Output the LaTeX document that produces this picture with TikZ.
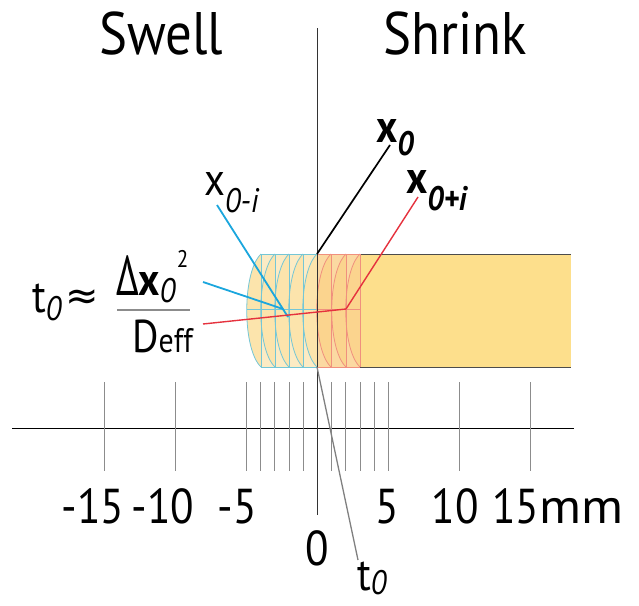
\documentclass[tikz,border=0pt]{standalone}
\usepackage{graphicx}
\usepackage{fontspec}
\setmainfont{PT Sans}[FakeStretch=0.88]
\newfontfamily\symfont{DejaVu Sans}
\definecolor{rodfill}{HTML}{FDDF8C}
\definecolor{palefill}{HTML}{FCEBC4}
\definecolor{warmfill}{HTML}{FBD9A2}
\definecolor{cyanline}{HTML}{1BA6DD}
\definecolor{cyanslice}{HTML}{74C6D6}
\definecolor{redline}{HTML}{E5323E}
\definecolor{redslice}{HTML}{F0907E}
\newcommand{\isub}[2]{\raisebox{-#1pt}{\fontsize{34}{34}\selectfont\itshape #2}}

\begin{document}
\begin{tikzpicture}[
  x=1pt, y=-1pt,
  title/.style={font=\fontsize{60}{60}\selectfont, anchor=base, inner sep=0pt},
  ticklbl/.style={font=\fontsize{49}{49}\selectfont, anchor=base, inner sep=0pt},
  varlbl/.style={font=\fontsize{46}{46}\selectfont, anchor=base west, inner sep=0pt},
  axis/.style={draw=black, line width=1pt},
  tick/.style={draw=black!45, line width=0.8pt},
  sliceL/.style={draw=cyanslice, line width=0.8pt},
  sliceR/.style={draw=redslice, line width=0.8pt},
  lens/.style={fill=orange!60!yellow, opacity=0.12},
  cyanlink/.style={draw=cyanline, line width=1.8pt},
  redlink/.style={draw=redline, line width=1.4pt},
  blacklink/.style={draw=black, line width=1.7pt},
  graylink/.style={draw=black!50, line width=1.3pt}]
  \useasboundingbox (0,0) rectangle (639,605);
  % Headings
  \node[title] (swell) at (161,54) {Swell};
  \node[title] (shrink) at (455,54) {Shrink};
  % Solid rod
  \fill[rodfill] (360,254) rectangle (571,367);
  \draw[draw=black!70, line width=1pt] (360,254) -- (571,254) (360,367) -- (571,367);
  % Slices, swelling side and shrinking side
  \fill[palefill] (261,254) -- (317,254) -- (317,367) -- (261,367) .. controls (242,349) and (242,272) .. cycle;
  \fill[warmfill] (317,254) -- (360,254) -- (360,367) -- (317,367) -- cycle;
  \fill[lens] (261,254) .. controls (242,272) and (242,349) .. (261,367) -- cycle;
  \fill[lens] (275,254) .. controls (256,272) and (256,349) .. (275,367) -- cycle;
  \fill[lens] (289,254) .. controls (270,272) and (270,349) .. (289,367) -- cycle;
  \fill[lens] (303,254) .. controls (284,272) and (284,349) .. (303,367) -- cycle;
  \fill[lens] (317,254) .. controls (298,272) and (298,349) .. (317,367) -- cycle;
  \fill[lens] (331,254) .. controls (312,272) and (312,349) .. (331,367) -- cycle;
  \fill[lens] (346,254) .. controls (327,272) and (327,349) .. (346,367) -- cycle;
  \fill[lens] (360,254) .. controls (341,272) and (341,349) .. (360,367) -- cycle;
  \draw[sliceL] (261,254) -- (317,254) (261,367) -- (317,367) (247,309) -- (317,309);
  \draw[sliceL] (261,254) -- (261,367) (275,254) -- (275,367) (289,254) -- (289,367) (303,254) -- (303,367);
  \draw[sliceL] (261,254) .. controls (242,272) and (242,349) .. (261,367);
  \draw[sliceL] (275,254) .. controls (256,272) and (256,349) .. (275,367);
  \draw[sliceL] (289,254) .. controls (270,272) and (270,349) .. (289,367);
  \draw[sliceL] (303,254) .. controls (284,272) and (284,349) .. (303,367);
  \draw[sliceL] (317,254) .. controls (298,272) and (298,349) .. (317,367);
  \draw[sliceR] (317,254) -- (360,254) (317,367) -- (360,367) (317,309) -- (360,309);
  \draw[sliceR] (331,254) -- (331,367) (346,254) -- (346,367) (360,254) -- (360,367);
  \draw[sliceR] (331,254) .. controls (312,272) and (312,349) .. (331,367);
  \draw[sliceR] (346,254) .. controls (327,272) and (327,349) .. (346,367);
  \draw[sliceR] (360,254) .. controls (341,272) and (341,349) .. (360,367);
  % Axes and ticks
  \draw[axis] (12,428) -- (574,428);
  \draw[tick] (104,382) -- (104,471) (175,382) -- (175,471);
  \draw[tick] (246,382) -- (246,471) (260,382) -- (260,471) (274,382) -- (274,471)
    (289,382) -- (289,471) (303,382) -- (303,471);
  \draw[tick] (331,382) -- (331,471) (345,382) -- (345,471) (360,382) -- (360,471)
    (374,382) -- (374,471) (388,382) -- (388,471);
  \draw[tick] (459,382) -- (459,471) (530,382) -- (530,471);
  \draw[draw=black!80, line width=0.9pt] (317,28) -- (317,515);
  \node[ticklbl] (lm15) at (93,523) {-15};
  \node[ticklbl] (lm10) at (163,523) {-10};
  \node[ticklbl] (lm5) at (237,523) {-5};
  \node[ticklbl] (l0) at (317,565) {0};
  \node[ticklbl] (l5) at (387,523) {5};
  \node[ticklbl] (l10) at (455,523) {10};
  \node[ticklbl, anchor=base west] (l15) at (492,523) {15\scalebox{1.2}[1]{mm}};
  % Labels
  \node[varlbl] (xm) at (204,195) {x\isub{17}{0-i}};
  \node[varlbl] (x0) at (376,142) {\bfseries x\isub{13}{0}};
  \node[varlbl] (xp) at (406,193) {\bfseries x\isub{17}{0+i}};
  \node[varlbl] (t0) at (357,590) {t\isub{4}{0}};
  \node[varlbl] (tz) at (32,312)
    {t\isub{8}{0}\hspace{4pt}\raisebox{3pt}{\symfont\fontsize{40}{40}\selectfont ≈}};
  \node[varlbl] (num) at (116,295)
    {\scalebox{0.8}[1]{\fontsize{56}{56}\selectfont Δ}{\bfseries x}\rlap{\isub{7}{0}}\kern17pt\raisebox{28pt}{\fontsize{24}{24}\selectfont 2}};
  \node[varlbl] (den) at (132,352) {D\fontsize{34}{34}\selectfont eff};
  \draw[draw=black!45, line width=1.5pt] (117,310) -- (190,310);
  % Connectors
  \coordinate (xmtip) at (217,205);
  \coordinate (xmpt) at (288,317);
  \coordinate (dxtip) at (203,282);
  \coordinate (dxpt) at (283,309);
  \coordinate (dftip) at (203,324);
  \coordinate (xppt) at (346,309);
  \coordinate (xptip) at (418,197);
  \coordinate (x0tip) at (390,145);
  \coordinate (x0pt) at (317,254);
  \coordinate (t0pt) at (317,367);
  \coordinate (t0tip) at (358,560);
  \draw[cyanlink] (xmtip) -- (xmpt);
  \draw[cyanlink] (dxtip) -- (dxpt);
  \draw[redlink] (dftip) -- (xppt);
  \draw[redlink] (xptip) -- (xppt);
  \draw[blacklink] (x0tip) -- (x0pt);
  \draw[graylink] (t0pt) -- (t0tip);
\end{tikzpicture}
\end{document}
